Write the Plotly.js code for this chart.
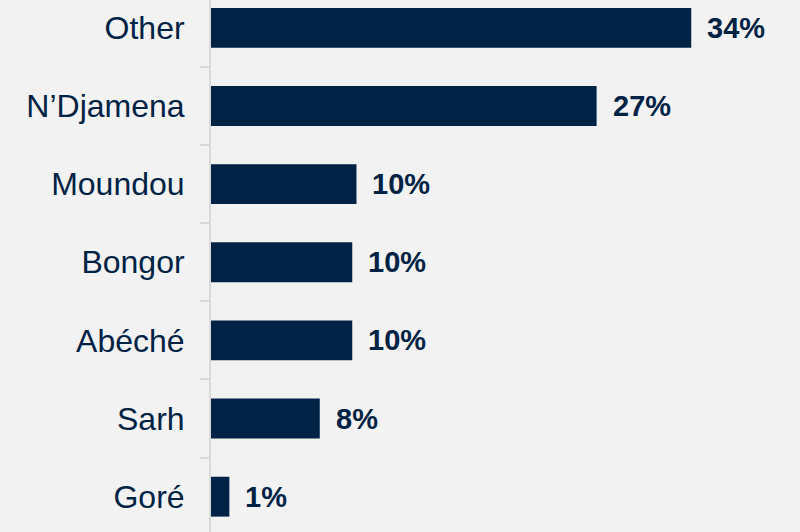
<!DOCTYPE html>
<html>
<head>
<meta charset="utf-8">
<script src="https://cdn.plot.ly/plotly-3.0.1.min.js"></script>
<style>
html,body{margin:0;padding:0;background:#f2f2f2;}
#chart{width:800px;height:532px;}
</style>
</head>
<body>
<div id="chart"></div>
<script>
const categories = ["Other", "N\u2019Djamena", "Moundou", "Bongor", "Ab\u00e9ch\u00e9", "Sarh", "Gor\u00e9"];
const shares = [34.0, 27.3, 10.3, 10.0, 10.0, 7.7, 1.3];
const shareLabels = ["34%", "27%", "10%", "10%", "10%", "8%", "1%"];

const navy = "#002244";
const font = "Arial, 'Liberation Sans', sans-serif";

const trace = {
  type: "bar",
  orientation: "h",
  y: categories,
  x: shares,
  marker: {color: navy, line: {width: 0}},
  hoverinfo: "skip"
};

const annotations = categories.map((c, i) => ({
  x: shares[i],
  y: c,
  xref: "x",
  yref: "y",
  text: "<b>" + shareLabels[i] + "</b>",
  showarrow: false,
  xanchor: "left",
  yanchor: "middle",
  xshift: 14,
  font: {family: font, size: 29, color: navy}
}));

const layout = {
  width: 800,
  height: 532,
  margin: {l: 211, r: 0, t: 0, b: 0, pad: 0},
  paper_bgcolor: "#f2f2f2",
  plot_bgcolor: "#f2f2f2",
  showlegend: false,
  bargap: 0.49,
  xaxis: {
    range: [0, 41.7],
    visible: false,
    showgrid: false,
    zeroline: false
  },
  yaxis: {
    type: "category",
    categoryorder: "array",
    categoryarray: categories,
    range: [6.452, -0.356],
    showline: true,
    linecolor: "#d9d9d9",
    linewidth: 2,
    ticks: "outside",
    tickson: "boundaries",
    ticklen: 9,
    tickwidth: 2,
    tickcolor: "#d9d9d9",
    ticklabelstandoff: 18,
    showgrid: false,
    zeroline: false,
    tickfont: {family: font, size: 32, color: navy}
  },
  annotations: annotations
};

Plotly.newPlot("chart", [trace], layout, {staticPlot: true, displayModeBar: false});
</script>
</body>
</html>
